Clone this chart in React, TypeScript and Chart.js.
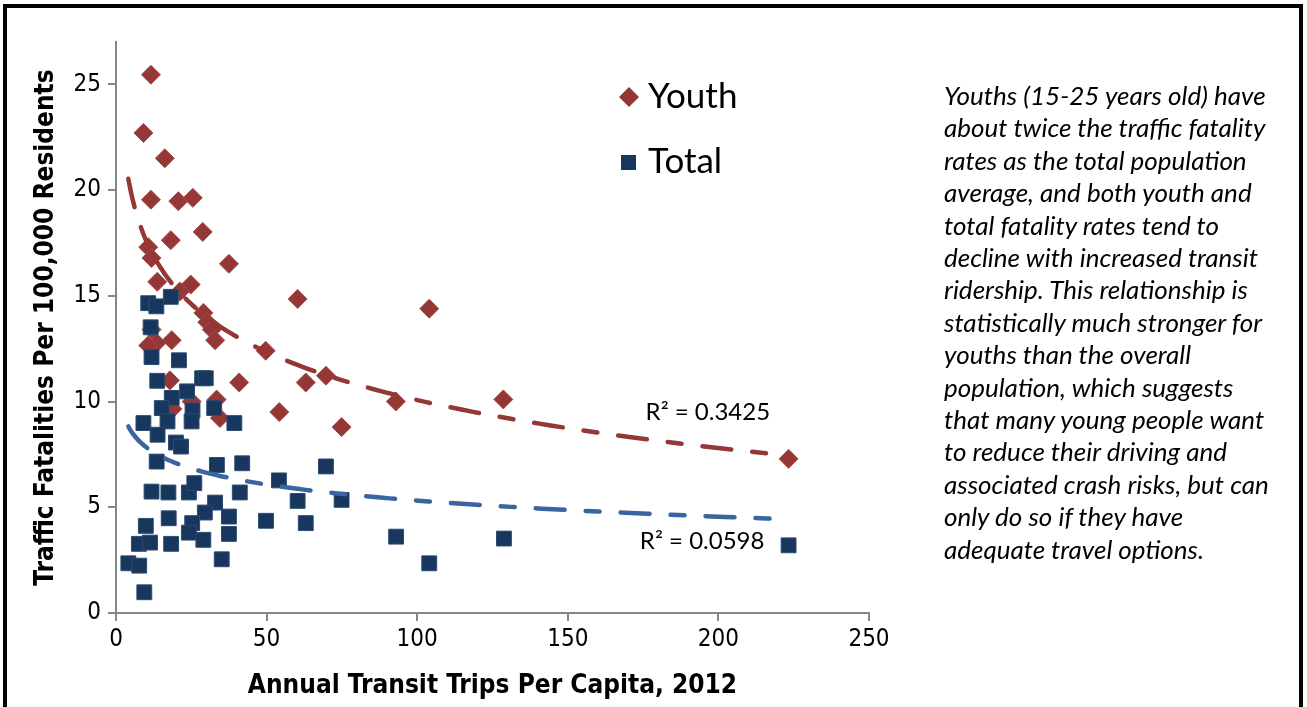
import React, { useEffect, useRef } from "react";
import { Chart, registerables } from "chart.js";

Chart.register(...registerables);

// Youth (15-25) traffic fatality rates vs. annual transit trips per capita
const youthTrips = [
  11.6, 9.1, 16.2, 11.6, 20.7, 25.5, 28.8, 18.2, 10.7, 11.8, 37.5, 13.7, 24.8,
  21.2, 29.0, 30.3, 31.8, 32.9, 18.5, 13.5, 10.7, 11.8, 17.9, 40.9, 25.1, 33.4,
  18.7, 34.5, 60.3, 49.7, 63.0, 69.7, 54.2, 74.9, 104.0, 128.6, 92.9, 223.3,
];
const youthRates = [
  25.45, 22.7, 21.5, 19.54, 19.47, 19.63, 18.02, 17.63, 17.3, 16.79, 16.51,
  15.66, 15.53, 15.2, 14.19, 13.75, 13.4, 12.9, 12.9, 12.77, 12.65, 13.4, 11.0,
  10.9, 10.0, 10.09, 9.65, 9.22, 14.85, 12.4, 10.9, 11.22, 9.5, 8.79, 14.39,
  10.1, 10.0, 7.29,
];

// Total population traffic fatality rates vs. annual transit trips per capita
const totalTrips = [
  10.7, 13.4, 18.2, 11.5, 11.8, 20.9, 13.7, 28.6, 29.8, 23.6, 18.5, 15.2, 25.4,
  32.6, 9.1, 17.1, 25.1, 39.3, 13.8, 19.9, 21.6, 13.5, 33.5, 41.9, 11.8, 17.4,
  24.2, 26.0, 41.1, 32.9, 29.5, 17.5, 37.5, 9.9, 25.3, 24.2, 29.0, 37.5, 7.6,
  11.3, 18.3, 4.1, 7.7, 35.1, 9.4, 69.7, 54.1, 60.3, 49.8, 63.0, 74.9, 93.0,
  104.0, 128.8, 223.3,
];
const totalRates = [
  14.65, 14.5, 14.95, 13.51, 12.1, 11.95, 10.98, 11.1, 11.1, 10.48, 10.17, 9.69,
  9.58, 9.69, 8.98, 9.06, 9.06, 8.98, 8.43, 8.06, 7.87, 7.16, 7.0, 7.08, 5.74,
  5.7, 5.7, 6.14, 5.7, 5.22, 4.75, 4.48, 4.56, 4.12, 4.25, 3.8, 3.46, 3.74,
  3.27, 3.33, 3.27, 2.35, 2.24, 2.54, 0.98, 6.93, 6.27, 5.3, 4.36, 4.25, 5.35,
  3.61, 2.35, 3.52, 3.2,
];

const xTicks = [0, 50, 100, 150, 200, 250];
const yTicks = [0, 5, 10, 15, 20, 25];

const seriesNames = ["Youth", "Total"];
const rSquaredLabels = ["R² = 0.3425", "R² = 0.0598"];

const xTitle = "Annual Transit Trips Per Capita, 2012";
const yTitle = "Traffic Fatalities Per 100,000 Residents";

const noteLines = [
  "Youths (15-25 years old) have",
  "about twice the traffic fatality",
  "rates as the total population",
  "average, and both youth and",
  "total fatality rates tend to",
  "decline with increased transit",
  "ridership. This relationship is",
  "statistically much stronger for",
  "youths than the overall",
  "population, which suggests",
  "that many young people want",
  "to reduce their driving and",
  "associated crash risks, but can",
  "only do so if they have",
  "adequate travel options.",
];

const YOUTH_COLOR = "#953735";
const TOTAL_COLOR = "#17375E";
const YOUTH_TREND = "#953735";
const TOTAL_TREND = "#3A65A0";
const AXIS_COLOR = "#868686";

const narrowFont =
  "'Liberation Sans Narrow', 'Arial Narrow', 'DejaVu Sans Condensed', sans-serif";
const bodyFont = "Lato, 'Open Sans', sans-serif";

type Pt = { x: number; y: number };

function toPoints(xs: number[], ys: number[]): Pt[] {
  return xs.map((x, i) => ({ x, y: ys[i] }));
}

// Least-squares fit of y = a·ln(x) + b (logarithmic trendline)
function logFit(xs: number[], ys: number[]) {
  const n = xs.length;
  let sx = 0, sy = 0, sxx = 0, sxy = 0;
  for (let i = 0; i < n; i++) {
    const lx = Math.log(xs[i]);
    sx += lx;
    sy += ys[i];
    sxx += lx * lx;
    sxy += lx * ys[i];
  }
  const a = (n * sxy - sx * sy) / (n * sxx - sx * sx);
  const b = (sy - a * sx) / n;
  return { a, b };
}

function trendPoints(xs: number[], ys: number[], x0: number, x1: number): Pt[] {
  const { a, b } = logFit(xs, ys);
  const pts: Pt[] = [];
  const steps = 120;
  for (let i = 0; i <= steps; i++) {
    const x = x0 * Math.pow(x1 / x0, i / steps);
    pts.push({ x, y: a * Math.log(x) + b });
  }
  return pts;
}

const overlayPlugin = {
  id: "legendAndLabels",
  afterDraw(chart: any) {
    const { ctx } = chart;
    const xs = chart.scales.x;
    const ys = chart.scales.y;
    ctx.save();

    // legend inside the plot area
    ctx.font = `35px ${bodyFont}`;
    ctx.textAlign = "left";
    ctx.textBaseline = "middle";

    // diamond
    const dx = 629, dy = 97, dr = 10;
    ctx.beginPath();
    ctx.moveTo(dx, dy - dr);
    ctx.lineTo(dx + dr, dy);
    ctx.lineTo(dx, dy + dr);
    ctx.lineTo(dx - dr, dy);
    ctx.closePath();
    ctx.fillStyle = YOUTH_COLOR;
    ctx.fill();
    ctx.fillStyle = "#000";
    ctx.fillText(seriesNames[0], 648, 97);

    // square
    ctx.fillStyle = TOTAL_COLOR;
    ctx.fillRect(621, 155, 15, 15);
    ctx.fillStyle = "#000";
    ctx.fillText(seriesNames[1], 648, 162);

    // R² annotations
    ctx.font = `24px ${bodyFont}`;
    ctx.textAlign = "center";
    ctx.fillText(rSquaredLabels[0], xs.getPixelForValue(196.5), ys.getPixelForValue(9.47));
    ctx.fillText(rSquaredLabels[1], xs.getPixelForValue(194.6), ys.getPixelForValue(3.41));
    ctx.restore();
  },
};

function FatalityChart() {
  const ref = useRef<HTMLCanvasElement | null>(null);

  useEffect(() => {
    if (!ref.current) return;
    const allTrips = [...youthTrips, ...totalTrips];
    const x0 = Math.min(...allTrips);
    const x1 = Math.max(...allTrips);

    const chart = new Chart(ref.current, {
      type: "scatter",
      data: {
        datasets: [
          {
            label: "Youth trend",
            data: trendPoints(youthTrips, youthRates, x0, x1),
            showLine: true,
            borderColor: YOUTH_TREND,
            borderWidth: 4.5,
            borderDash: [29, 21, 14, 21],
            borderCapStyle: "round",
            pointRadius: 0,
            tension: 0,
          },
          {
            label: "Total trend",
            data: trendPoints(totalTrips, totalRates, x0, x1),
            showLine: true,
            borderColor: TOTAL_TREND,
            borderWidth: 4.5,
            borderDash: [29, 21, 14, 21],
            borderCapStyle: "round",
            pointRadius: 0,
            tension: 0,
          },
          {
            label: seriesNames[1],
            data: toPoints(totalTrips, totalRates),
            pointStyle: "rect",
            pointRadius: 10.5,
            backgroundColor: TOTAL_COLOR,
            borderColor: "#2d4b73",
            borderWidth: 1,
          },
          {
            label: seriesNames[0],
            data: toPoints(youthTrips, youthRates),
            pointStyle: "rectRot",
            pointRadius: 9.5,
            backgroundColor: YOUTH_COLOR,
            borderColor: "#a64c4a",
            borderWidth: 1,
          },
        ],
      },
      options: {
        animation: false,
        responsive: false,
        devicePixelRatio: 1,
        events: [],
        layout: { padding: { left: 8, top: 42, right: 438, bottom: 0 } },
        plugins: {
          legend: { display: false },
          tooltip: { enabled: false },
        },
        scales: {
          x: {
            type: "linear",
            min: 0,
            max: 250,
            afterBuildTicks: (s: any) => {
              s.ticks = xTicks.map((v) => ({ value: v }));
            },
            afterFit: (s: any) => {
              s.height = 94;
            },
            grid: {
              drawOnChartArea: false,
              drawTicks: true,
              tickLength: 8,
              color: AXIS_COLOR,
              lineWidth: 2,
            },
            border: { color: AXIS_COLOR, width: 2 },
            ticks: {
              color: "#000",
              padding: 4,
              font: { family: narrowFont, size: 24 },
            },
            title: {
              display: true,
              text: xTitle,
              color: "#000",
              padding: { top: 0, bottom: 5 },
              font: { family: narrowFont, size: 26, weight: "bold" },
            },
          },
          y: {
            type: "linear",
            min: 0,
            max: 27,
            afterBuildTicks: (s: any) => {
              s.ticks = yTicks.map((v) => ({ value: v }));
            },
            afterFit: (s: any) => {
              s.width = 108;
            },
            grid: {
              drawOnChartArea: false,
              drawTicks: true,
              tickLength: 8,
              color: AXIS_COLOR,
              lineWidth: 2,
            },
            border: { color: AXIS_COLOR, width: 2 },
            ticks: {
              color: "#000",
              padding: 7,
              font: { family: narrowFont, size: 24 },
            },
            title: {
              display: true,
              text: yTitle,
              color: "#000",
              padding: { top: 23, bottom: 0 },
              font: { family: narrowFont, size: 26, weight: "bold" },
            },
          },
        },
      },
      plugins: [overlayPlugin],
    });
    return () => chart.destroy();
  }, []);

  return <canvas ref={ref} width={1307} height={707} style={{ position: "absolute", left: 0, top: 0 }} />;
}

export default function App() {
  return (
    <div
      style={{
        position: "fixed",
        left: 0,
        top: 0,
        width: 1307,
        height: 707,
        background: "#fff",
        overflow: "hidden",
      }}
    >
      <FatalityChart />
      <div
        style={{
          position: "absolute",
          left: 3,
          top: 4,
          width: 1300,
          height: 800,
          boxSizing: "border-box",
          border: "4px solid #000",
          borderBottom: "none",
          pointerEvents: "none",
        }}
      />
      <div
        style={{
          position: "absolute",
          left: 944,
          top: 79,
          fontFamily: bodyFont,
          fontStyle: "italic",
          fontSize: 26,
          lineHeight: "32.4px",
          color: "#000",
          whiteSpace: "pre",
        }}
      >
        {noteLines.map((line, i) => (
          <div key={i}>{line}</div>
        ))}
      </div>
    </div>
  );
}
